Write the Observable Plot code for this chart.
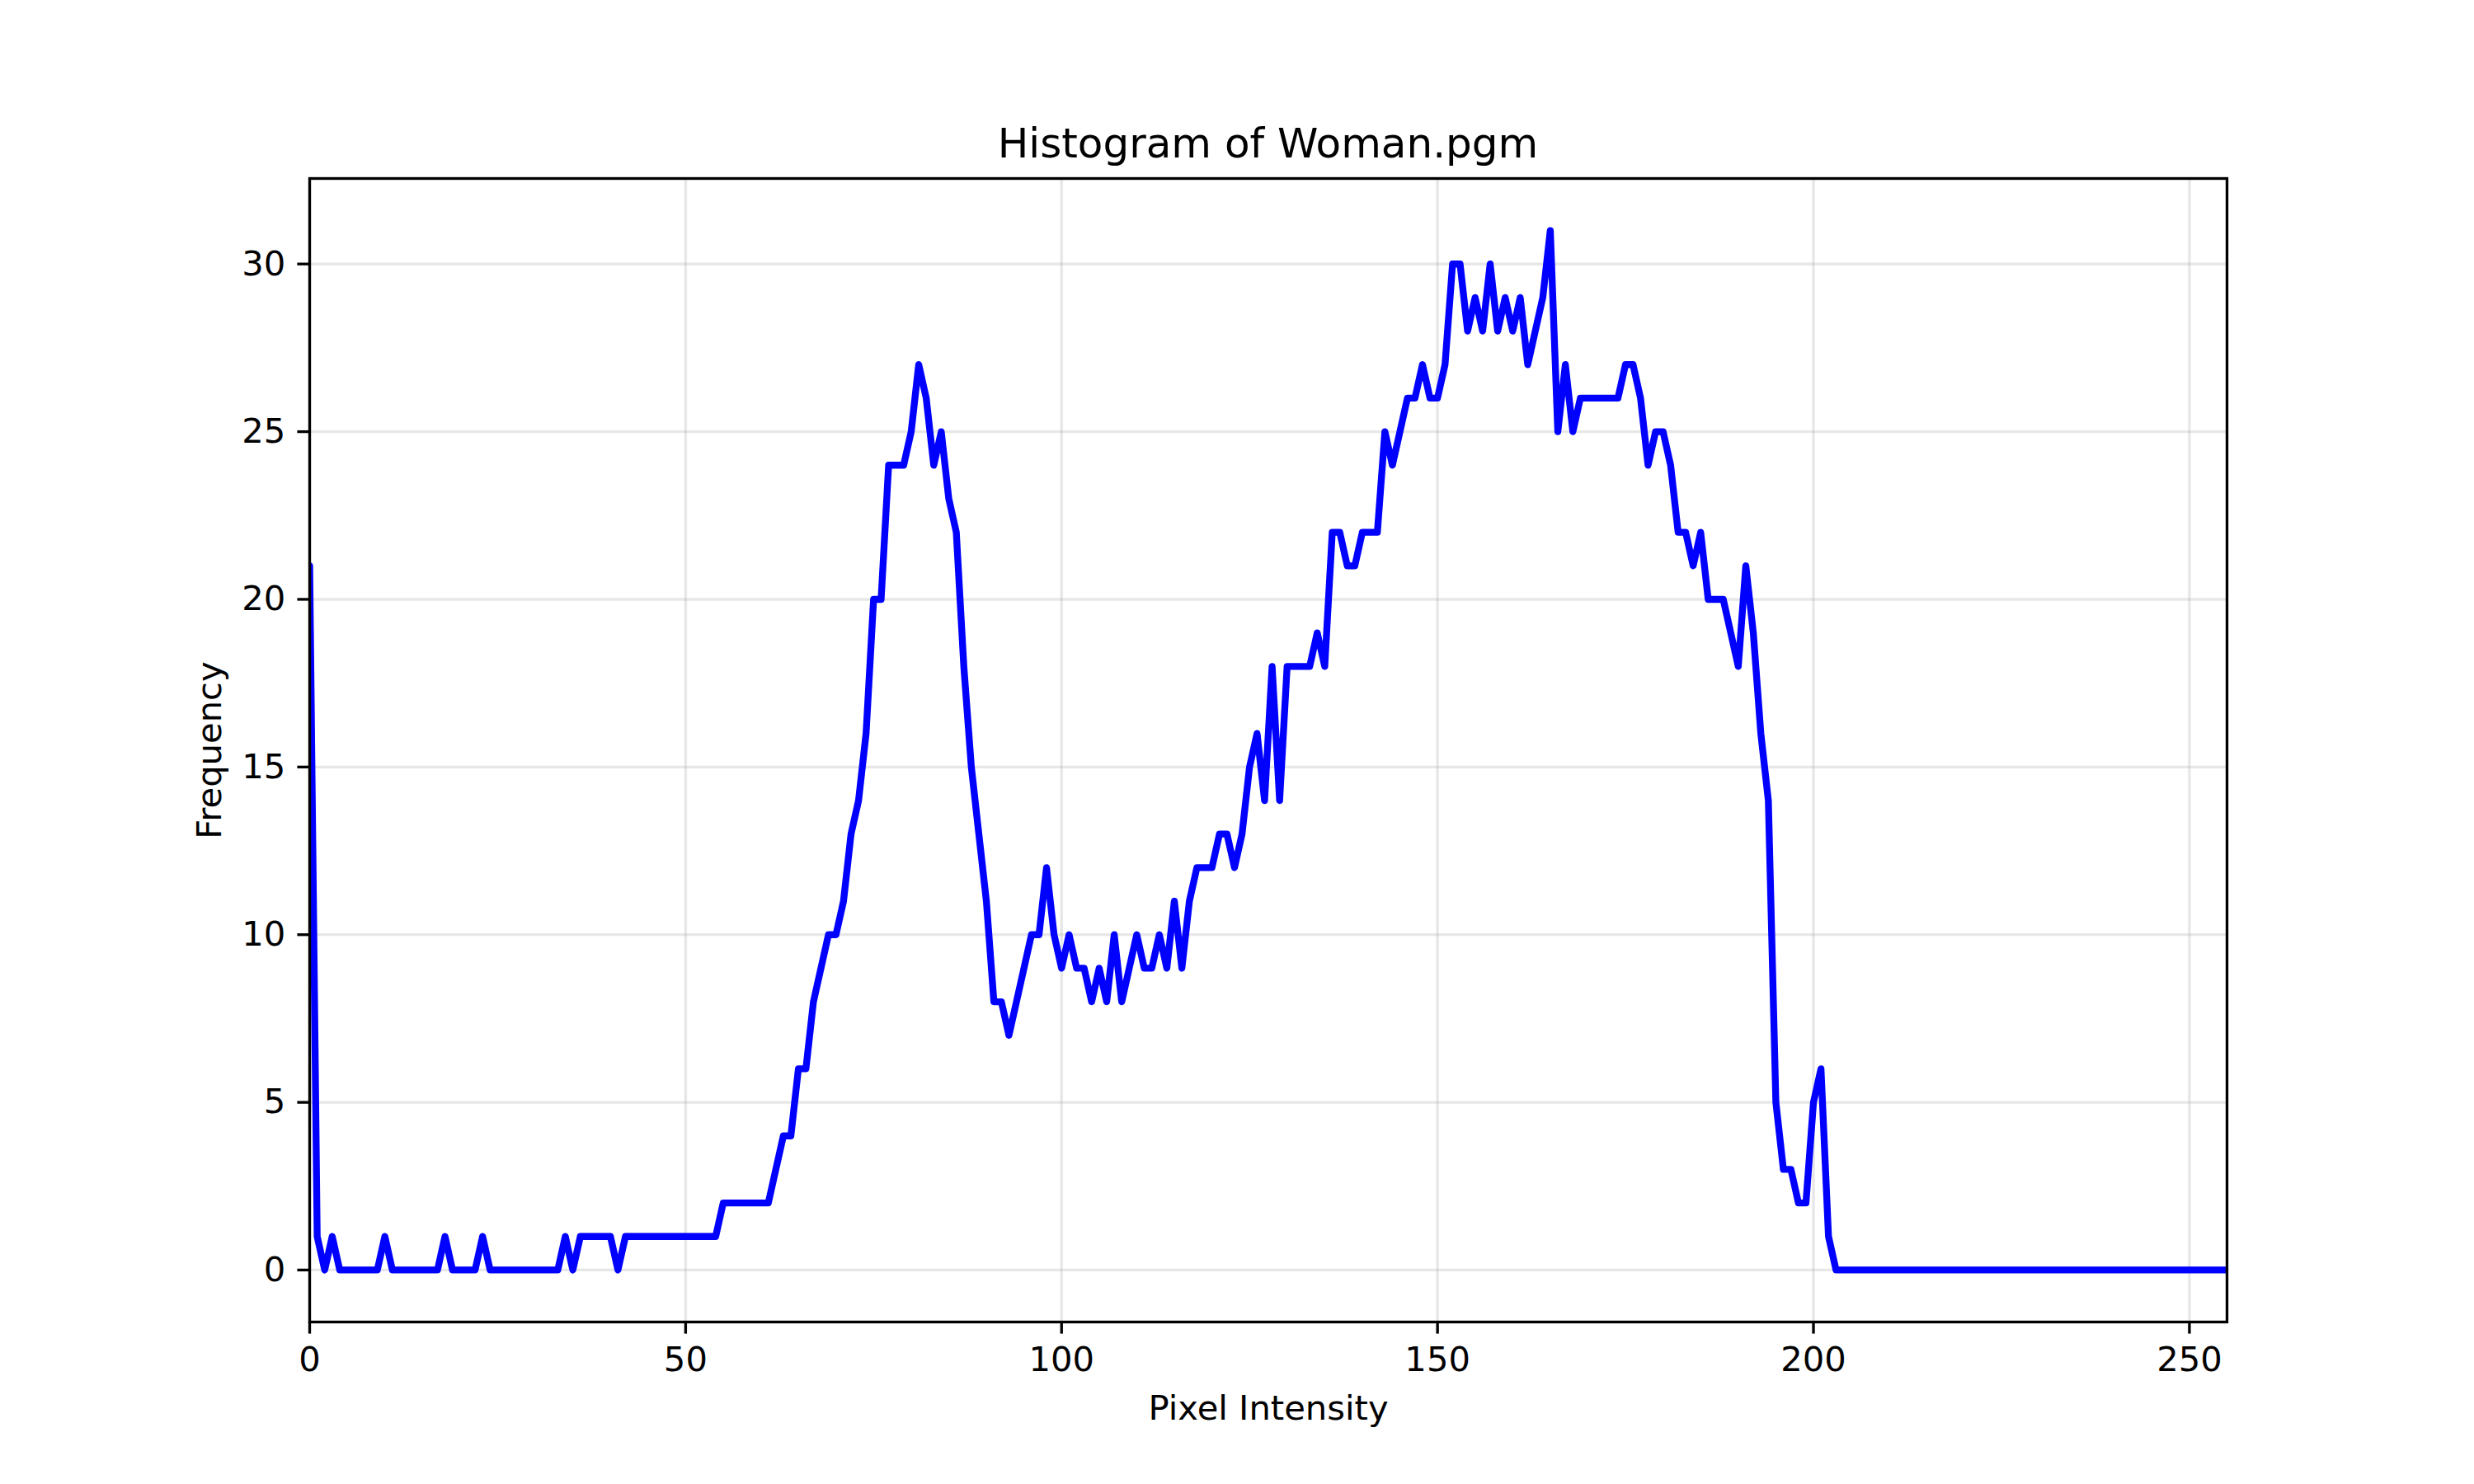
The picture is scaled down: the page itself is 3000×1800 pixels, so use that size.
<!DOCTYPE html>
<html><head><meta charset="utf-8">
<script src="https://cdn.jsdelivr.net/npm/d3@7"></script>
<script src="https://cdn.jsdelivr.net/npm/@observablehq/plot@0.6"></script>
<style>
html,body{margin:0;padding:0;background:#fff;}
#wrap{position:relative;width:3000px;height:1800px;font-family:"DejaVu Sans",sans-serif;}
#title{position:absolute;left:375px;width:2325px;top:149px;text-align:center;font-size:50px;line-height:50px;color:#000;}
#chart{position:absolute;left:0;top:0;}
</style></head><body>
<div id="wrap"><div id="chart"></div><div id="title"></div></div>
<script>
const title = "Histogram of Woman.pgm";
const xLabel = "Pixel Intensity";
const yLabel = "Frequency";
const xTicks = [0, 50, 100, 150, 200, 250];
const yTicks = [0, 5, 10, 15, 20, 25, 30];
// frequency per pixel intensity 0..255
const frequency = [
  21, 1, 0, 1, 0, 0, 0, 0, 0, 0,   // 0-9
  1, 0, 0, 0, 0, 0, 0, 0, 1, 0,    // 10-19
  0, 0, 0, 1, 0, 0, 0, 0, 0, 0,    // 20-29
  0, 0, 0, 0, 1, 0, 1, 1, 1, 1,    // 30-39
  1, 0, 1, 1, 1, 1, 1, 1, 1, 1,    // 40-49
  1, 1, 1, 1, 1, 2, 2, 2, 2, 2,    // 50-59
  2, 2, 3, 4, 4, 6, 6, 8, 9, 10,   // 60-69
  10, 11, 13, 14, 16, 20, 20, 24, 24, 24, // 70-79
  25, 27, 26, 24, 25, 23, 22, 18, 15, 13, // 80-89
  11, 8, 8, 7, 8, 9, 10, 10, 12, 10,      // 90-99
  9, 10, 9, 9, 8, 9, 8, 10, 8, 9,         // 100-109
  10, 9, 9, 10, 9, 11, 9, 11, 12, 12,     // 110-119
  12, 13, 13, 12, 13, 15, 16, 14, 18, 14, // 120-129
  18, 18, 18, 18, 19, 18, 22, 22, 21, 21, // 130-139
  22, 22, 22, 25, 24, 25, 26, 26, 27, 26, // 140-149
  26, 27, 30, 30, 28, 29, 28, 30, 28, 29, // 150-159
  28, 29, 27, 28, 29, 31, 25, 27, 25, 26, // 160-169
  26, 26, 26, 26, 26, 27, 27, 26, 24, 25, // 170-179
  25, 24, 22, 22, 21, 22, 20, 20, 20, 19, // 180-189
  18, 21, 19, 16, 14, 5, 3, 3, 2, 2,      // 190-199
  5, 6, 1, 0, 0, 0, 0, 0, 0, 0,           // 200-209
  0, 0, 0, 0, 0, 0, 0, 0, 0, 0,           // 210-219
  0, 0, 0, 0, 0, 0, 0, 0, 0, 0,           // 220-229
  0, 0, 0, 0, 0, 0, 0, 0, 0, 0,           // 230-239
  0, 0, 0, 0, 0, 0, 0, 0, 0, 0,           // 240-249
  0, 0, 0, 0, 0, 0                        // 250-255
];
const intensity = frequency.map((_, i) => i);
const data = intensity.map((x, i) => ({x, y: frequency[i]}));

document.getElementById("title").textContent = title;

const gridStyle = {stroke: "#b0b0b0", strokeOpacity: 0.3, strokeWidth: 3.33};
const chart = Plot.plot({
  width: 3000, height: 1800,
  marginLeft: 375, marginRight: 300, marginTop: 216, marginBottom: 197,
  style: {fontFamily: "DejaVu Sans", fontSize: "41.7px", background: "#fff", color: "#000"},
  x: {domain: [0, 255], inset: 0},
  y: {domain: [-1.55, 32.55], inset: 0},
  marks: [
    Plot.gridX(xTicks, gridStyle),
    Plot.gridY(yTicks, gridStyle),
    Plot.line(data, {x: "x", y: "y", stroke: "#0000ff", strokeWidth: 8.33, clip: true}),
    Plot.frame({stroke: "#000", strokeWidth: 3.33}),
    Plot.axisX(xTicks, {tickSize: 14.6, tickPadding: 15, strokeWidth: 3.33, fontSize: 41.7, label: null}),
    Plot.axisY(yTicks, {tickSize: 14.6, tickPadding: 14.6, strokeWidth: 3.33, fontSize: 41.7, label: null}),
    Plot.text([xLabel], {frameAnchor: "bottom", dy: 118, fontSize: 41.7, fill: "#000"}),
    Plot.text([yLabel], {frameAnchor: "left", textAnchor: "middle", dx: -121, rotate: -90, fontSize: 41.7, fill: "#000"})
  ]
});
document.getElementById("chart").appendChild(chart);
</script>
</body></html>
